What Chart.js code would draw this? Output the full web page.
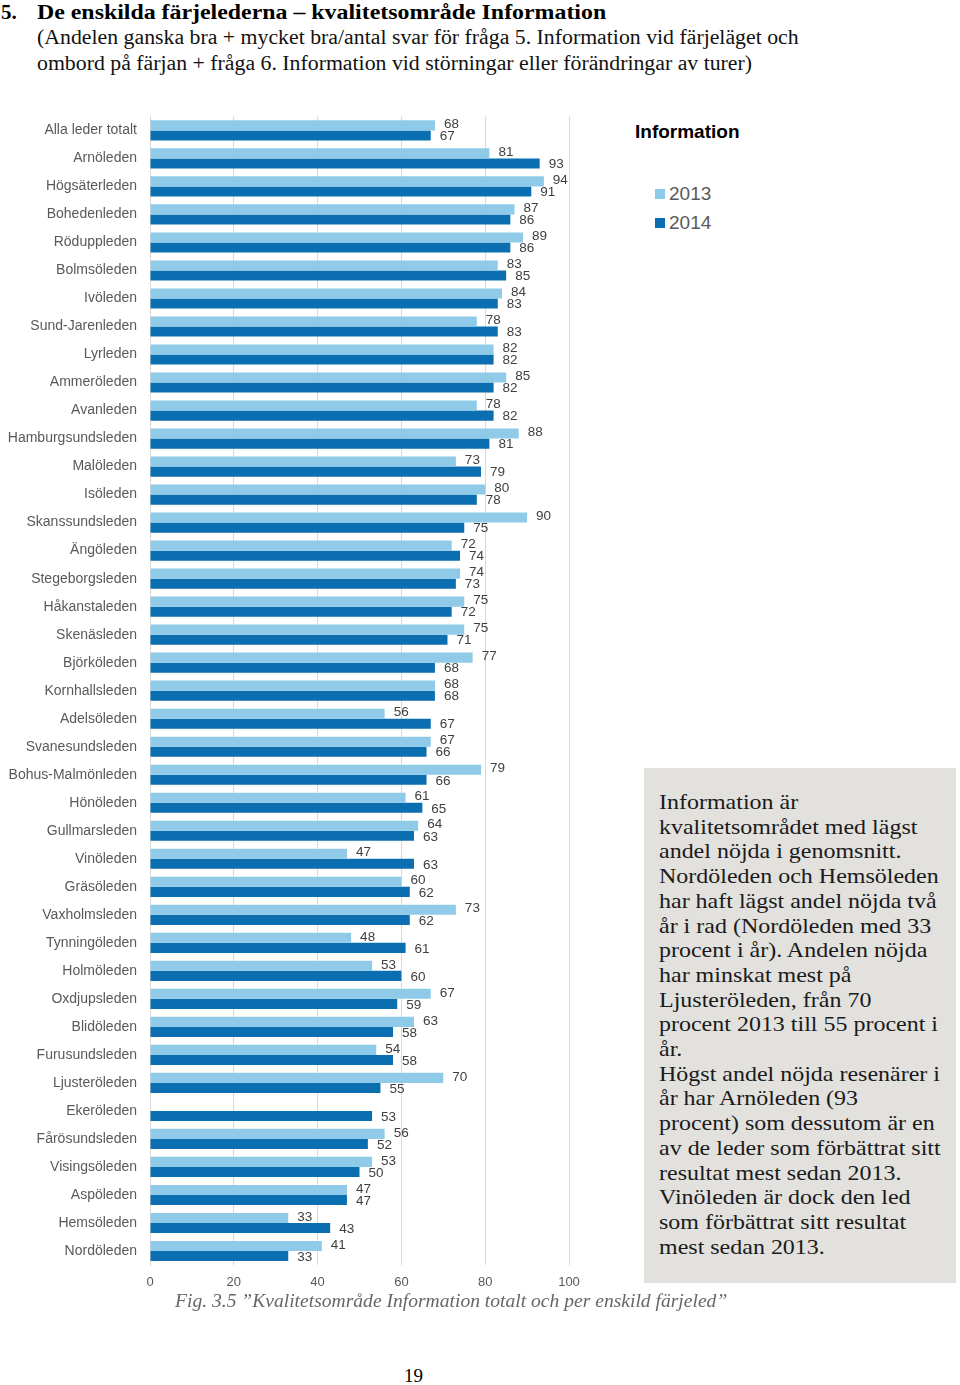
<!DOCTYPE html>
<html>
<head>
<meta charset="utf-8">
<script src="https://cdn.jsdelivr.net/npm/chart.js@4"></script>
<style>
  body { margin: 0; width: 960px; height: 1385px; background: #fff; position: relative; overflow: hidden; }
  .serif { font-family: "Liberation Serif", "Times New Roman", serif; }
  #head { position: absolute; left: 0; top: 0; }
  #head .l1 { position: absolute; left: 1px; top: 0; font-size: 21px; font-weight: bold; white-space: nowrap; }
  #head .l1 span { position: absolute; left: 36px; transform: scaleX(1.136); transform-origin: 0 50%; }
  #head .l2, #head .l3 { position: absolute; left: 37px; font-size: 20px; white-space: nowrap; color: #111; transform: scaleX(1.09); transform-origin: 0 50%; }
  #head .l2 { top: 26px; }
  #head .l3 { top: 52px; }
  #chartBox { position: absolute; left: 0; top: 103px; width: 620px; height: 1192px; }
  #legend { position: absolute; left: 635px; top: 121px; font-family: "Liberation Sans", Arial, sans-serif; }
  #legend .title { font-weight: bold; font-size: 19px; color: #000; }
  #legend .item { position: absolute; left: 20px; font-size: 19px; color: #595959; white-space: nowrap; }
  #legend .item i { display: inline-block; width: 10px; height: 10px; margin-right: 4px; vertical-align: 1px; }
  #note { position: absolute; left: 644px; top: 768px; width: 312px; height: 515px; background: #e2e1de; }
  #note div { position: absolute; left: 15px; top: 22px; font-size: 22px; line-height: 24.7px; color: #1a1a1a; white-space: pre; transform: scaleX(1.09); transform-origin: 0 0; }
  #caption { position: absolute; left: 175px; top: 1290px; font-size: 19px; font-style: italic; color: #666; white-space: nowrap; transform: scaleX(1.03); transform-origin: 0 50%; }
  #page { position: absolute; left: 404px; top: 1365px; font-size: 19px; color: #000; }
</style>
</head>
<body>
<div id="head" class="serif">
  <div class="l1">5.<span>De enskilda färjelederna – kvalitetsområde Information</span></div>
  <div class="l2">(Andelen ganska bra + mycket bra/antal svar för fråga 5. Information vid färjeläget och</div>
  <div class="l3">ombord på färjan + fråga 6. Information vid störningar eller förändringar av turer)</div>
</div>

<div id="chartBox"><canvas id="infoChart"></canvas></div>

<div id="legend"></div>

<div id="note" class="serif"><div>Information är
kvalitetsområdet med lägst
andel nöjda i genomsnitt.
Nordöleden och Hemsöleden
har haft lägst andel nöjda två
år i rad (Nordöleden med 33
procent i år). Andelen nöjda
har minskat mest på
Ljusteröleden, från 70
procent 2013 till 55 procent i
år.
Högst andel nöjda resenärer i
år har Arnöleden (93
procent) som dessutom är en
av de leder som förbättrat sitt
resultat mest sedan 2013.
Vinöleden är dock den led
som förbättrat sitt resultat
mest sedan 2013.</div></div>

<div id="caption" class="serif">Fig. 3.5 ”Kvalitetsområde Information totalt och per enskild färjeled”</div>
<div id="page" class="serif">19</div>

<script>
const leder = [
  "Alla leder totalt", "Arnöleden", "Högsäterleden", "Bohedenleden", "Röduppleden",
  "Bolmsöleden", "Ivöleden", "Sund-Jarenleden", "Lyrleden", "Ammeröleden",
  "Avanleden", "Hamburgsundsleden", "Malöleden", "Isöleden", "Skanssundsleden",
  "Ängöleden", "Stegeborgsleden", "Håkanstaleden", "Skenäsleden", "Björköleden",
  "Kornhallsleden", "Adelsöleden", "Svanesundsleden", "Bohus-Malmönleden", "Hönöleden",
  "Gullmarsleden", "Vinöleden", "Gräsöleden", "Vaxholmsleden", "Tynningöleden",
  "Holmöleden", "Oxdjupsleden", "Blidöleden", "Furusundsleden", "Ljusteröleden",
  "Ekeröleden", "Fårösundsleden", "Visingsöleden", "Aspöleden", "Hemsöleden",
  "Nordöleden"
];
const varden2013 = [
  68, 81, 94, 87, 89, 83, 84, 78, 82, 85,
  78, 88, 73, 80, 90, 72, 74, 75, 75, 77,
  68, 56, 67, 79, 61, 64, 47, 60, 73, 48,
  53, 67, 63, 54, 70, null, 56, 53, 47, 33,
  41
];
const varden2014 = [
  67, 93, 91, 86, 86, 85, 83, 83, 82, 82,
  82, 81, 79, 78, 75, 74, 73, 72, 71, 68,
  68, 67, 66, 66, 65, 63, 63, 62, 62, 61,
  60, 59, 58, 58, 55, 53, 52, 50, 47, 43,
  33
];
const xTicks = [0, 20, 40, 60, 80, 100];

const sans = "'Liberation Sans', Arial, sans-serif";

// labels next to each bar end
const barLabels = {
  id: "barLabels",
  afterDatasetsDraw(chart) {
    const c = chart.ctx;
    c.save();
    c.font = "13.5px " + sans;
    c.fillStyle = "#404040";
    c.textAlign = "left";
    c.textBaseline = "middle";
    chart.data.datasets.forEach((ds, i) => {
      chart.getDatasetMeta(i).data.forEach((bar, j) => {
        if (ds.data[j] == null) return;
        c.fillText(ds.data[j], bar.x + 9, bar.y + (i === 0 ? -1 : 1));
      });
    });
    c.restore();
  }
};

const chart = new Chart(document.getElementById("infoChart"), {
  type: "bar",
  data: {
    labels: leder,
    datasets: [
      { label: "2013", data: varden2013, backgroundColor: "#8fcbe8" },
      { label: "2014", data: varden2014, backgroundColor: "#0a6eb0" }
    ]
  },
  options: {
    indexAxis: "y",
    responsive: true,
    maintainAspectRatio: false,
    animation: false,
    categoryPercentage: 0.72,
    barPercentage: 1,
    layout: { padding: { top: 5, right: 51, left: 0, bottom: 0 } },
    plugins: { legend: { display: false }, tooltip: { enabled: false } },
    scales: {
      x: {
        min: 0, max: 100,
        afterBuildTicks: s => { s.ticks = xTicks.map(v => ({ value: v })); },
        afterFit: s => { s.height = 30; },
        grid: { color: "#d9d9d9", drawTicks: false },
        border: { display: false },
        ticks: { color: "#595959", font: { family: sans, size: 13 }, padding: 10 }
      },
      y: {
        afterFit: s => { s.width = 150; },
        grid: { display: false },
        border: { display: true, color: "#d9d9d9" },
        ticks: { color: "#595959", font: { family: sans, size: 14 }, padding: 5, autoSkip: false }
      }
    }
  },
  plugins: [barLabels]
});

// legend from the datasets
const leg = document.getElementById("legend");
leg.innerHTML = `<div class="title">Information</div>`;
chart.data.datasets.forEach((ds, i) => {
  const item = document.createElement("div");
  item.className = "item";
  item.style.top = (62 + i * 29) + "px";
  item.innerHTML = `<i style="background:${ds.backgroundColor}"></i>${ds.label}`;
  leg.appendChild(item);
});
</script>
</body>
</html>
